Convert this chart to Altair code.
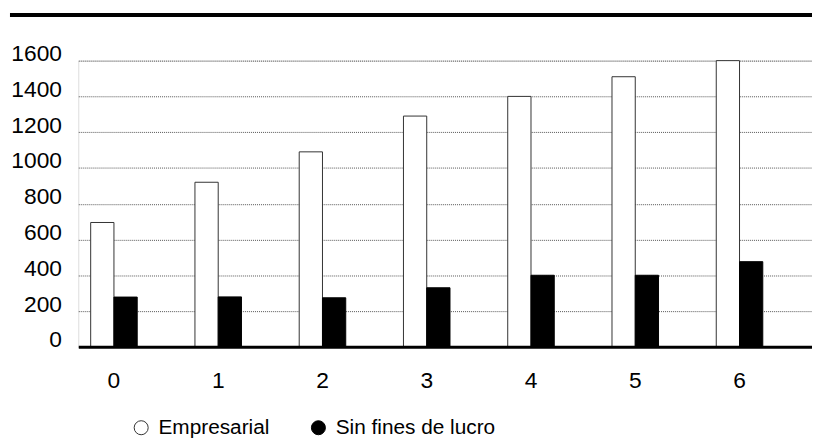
import altair as alt
import pandas as pd

anios = ["0", "1", "2", "3", "4", "5", "6"]
empresarial = [695, 920, 1090, 1290, 1400, 1510, 1600]
sin_fines = [278, 279, 274, 330, 400, 400, 476]
series = ["Empresarial", "Sin fines de lucro"]
y_ticks = [0, 200, 400, 600, 800, 1000, 1200, 1400, 1600]

rows = []
for i, a in enumerate(anios):
    rows.append({"anio": a, "serie": series[0], "valor": empresarial[i]})
    rows.append({"anio": a, "serie": series[1], "valor": sin_fines[i]})
df = pd.DataFrame(rows)

W, H = 741, 289
FONT = "Liberation Sans"

bars = alt.Chart(df).mark_bar(strokeWidth=1).encode(
    x=alt.X(
        "anio:N", sort=anios, title=None,
        scale=alt.Scale(paddingInner=0.5537, paddingOuter=0.2954, align=0.201),
        axis=alt.Axis(labelAngle=0, ticks=False, domainColor="black", domainWidth=3,
                      labelFontSize=23, labelPadding=23, labelColor="black", zindex=1,
                      labelFont=FONT),
    ),
    xOffset=alt.XOffset("serie:N", sort=series, scale=alt.Scale(paddingInner=0, paddingOuter=0)),
    y=alt.Y(
        "valor:Q", title=None, scale=alt.Scale(domain=[0, 1600]),
        axis=alt.Axis(values=y_ticks, format="d", grid=True, gridDash=[1, 1], gridColor="#555",
                      gridWidth=1, domain=False, ticks=False, labelFontSize=23,
                      labelPadding=17, labelBaseline="alphabetic", labelColor="black",
                      labelFont=FONT),
    ),
    fill=alt.Fill(
        "serie:N", sort=series,
        scale=alt.Scale(domain=series, range=["white", "black"]),
        legend=alt.Legend(orient="none", legendX=53, legendY=360, direction="horizontal",
                          title=None, symbolType="circle", symbolSize=200,
                          symbolStrokeColor="black", symbolStrokeWidth=1,
                          labelFontSize=21, labelColor="black", labelFont=FONT,
                          labelLimit=0, columnPadding=38, labelOffset=7),
    ),
    stroke=alt.Stroke(
        "serie:N", sort=series,
        scale=alt.Scale(domain=series, range=["#333333", "black"]),
        legend=None,
    ),
)

top_rule = alt.Chart(pd.DataFrame({"a": [0]})).mark_rule(color="black", strokeWidth=4).encode(
    x=alt.value(-69), x2=alt.value(W), y=alt.value(-46)
)

chart = alt.layer(bars, top_rule).properties(
    width=W, height=H,
    autosize="none",
    padding={"left": 71, "top": 51, "right": 0, "bottom": 94},
).configure_view(stroke=None).configure(font=FONT)

chart.save("out.html", embed_options={"renderer": "svg", "actions": False})
